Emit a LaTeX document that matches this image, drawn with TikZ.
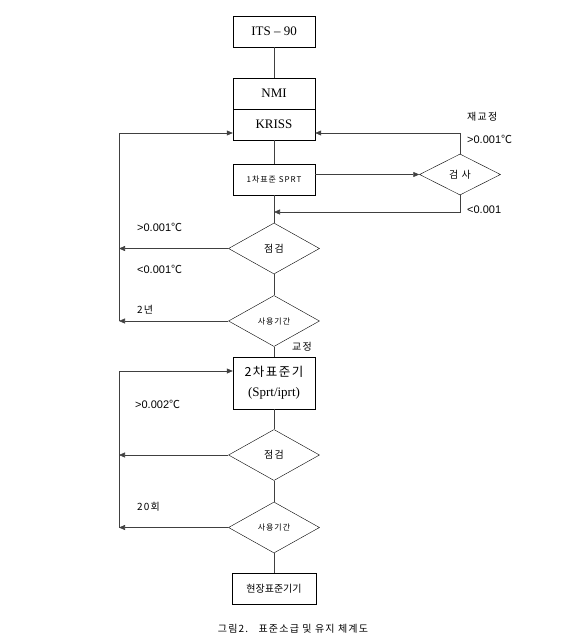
\documentclass[tikz,border=0pt]{standalone}
\usepackage{fontspec}
\setmainfont{Liberation Serif}
\newfontfamily\kr{Noto Sans CJK KR}
\newfontfamily\krs[LetterSpace=12]{Noto Sans CJK KR}
\newfontfamily\lbl{Liberation Sans}
\usetikzlibrary{shapes.geometric,arrows.meta}

\begin{document}
\begin{tikzpicture}[x=1pt,y=-1pt]
\tikzstyle{every node}+=[inner sep=0pt]
\tikzstyle{box}=[draw, minimum width=82pt, minimum height=31pt, font=\fontsize{13}{15}\selectfont]
\tikzstyle{dia}=[draw, diamond, minimum width=91pt, minimum height=51pt]
\tikzstyle{link}=[draw=black!75, line width=0.6pt]
\tikzstyle{arr}=[link, -{Triangle[length=6pt,width=5pt]}]
\tikzstyle{lab}=[anchor=west, font=\lbl\fontsize{11}{13}\selectfont]
\tikzstyle{klab}=[anchor=west, font=\krs\fontsize{10}{12}\selectfont]
\useasboundingbox (0,0) rectangle (586,642);
\node [box] (its) at (274,31.5) {ITS -- 90};
\node [box] (nmi) at (274,93.5) {NMI};
\node [box] (kriss) at (274,124.5) {KRISS};
\node [box, font=\krs\fontsize{8}{9}\selectfont] (sprt) at (274,179.5) {1차표준 SPRT};
\node [dia, minimum width=81pt, minimum height=41pt, font=\kr\fontsize{10}{12}\selectfont] (chk) at (460,174.5) {검\,\,사};
\node [dia, font=\krs\fontsize{10}{12}\selectfont] (insp1) at (274,248.5) {점검};
\node [dia, font=\krs\fontsize{8}{9}\selectfont] (use1) at (274,321) {사용기간};
\node [box, minimum height=52pt, align=center, font=\fontsize{13}{20}\selectfont] (sec) at (274,383) {{\krs\fontsize{12.5}{20}\selectfont 2차표준기}\\(Sprt/iprt)};
\node [dia, font=\krs\fontsize{10}{12}\selectfont] (insp2) at (274,455) {점검};
\node [dia, font=\krs\fontsize{8}{9}\selectfont] (use2) at (274,527.5) {사용기간};
\node [box, minimum width=84pt, font=\kr\fontsize{10}{12}\selectfont] (field) at (274,588.5) {현장표준기기};
\coordinate (kin) at ([yshift=-8.5pt]kriss.west);
\coordinate (kout) at ([yshift=-8.5pt]kriss.east);
\coordinate (sin) at ([yshift=12pt]sec.west);
\coordinate (l1) at (119,321);
\coordinate (l2) at (119,527.5);
\draw [link] (its) -- (nmi);
\draw [link] (kriss) -- (sprt);
\draw [link] (sprt) -- (insp1);
\draw [link] (insp1) -- (use1);
\draw [link] (use1) -- (sec);
\draw [link] (sec) -- (insp2);
\draw [link] (insp2) -- (use2);
\draw [link] (use2) -- (field);
\draw [arr] (sprt.east |- chk) -- (chk.west);
\draw [arr] (chk.north) |- (kout);
\draw [arr] (chk.south) -- (460,212) -- (274,212);
\draw [arr] (insp1.west) -- (119,248.5);
\draw [arr] (use1.west) -- (l1);
\draw [arr] (l1) |- (kin);
\draw [arr] (insp2.west) -- (119,455);
\draw [arr] (use2.west) -- (l2);
\draw [arr] (l2) |- (sin);
\node [klab] (recal) at (467,117) {재교정};
\node [lab] (hi1) at (467,139) {>0.001{\kr ℃}};
\node [lab] (lo1) at (467,210) {<0.001};
\node [lab] (hi2) at (137,227) {>0.001{\kr ℃}};
\node [lab] (lo2) at (137,269) {<0.001{\kr ℃}};
\node [klab] (yr) at (137,310) {2년};
\node [klab] (cal) at (292,347) {교정};
\node [lab] (hi3) at (135,404) {>0.002{\kr ℃}};
\node [klab] (cnt) at (137,507) {20회};
\node [font=\krs\fontsize{10}{12}\selectfont] (cap) at (293,629) {그림2.\ \ \ 표준소급\ 및\ 유지\ 체계도};
\end{tikzpicture}
\end{document}
